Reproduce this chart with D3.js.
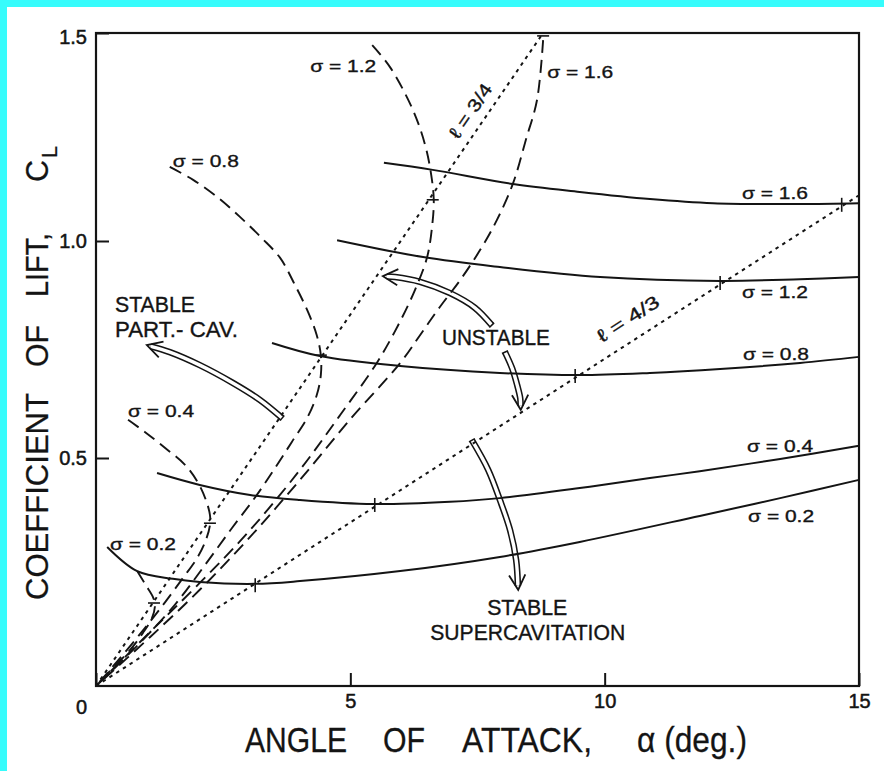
<!DOCTYPE html>
<html>
<head>
<meta charset="utf-8">
<script src="https://cdn.jsdelivr.net/npm/d3@7"></script>
<style>
  html, body { margin: 0; padding: 0; background: #fff; }
  svg { display: block; }
  text { font-family: "Liberation Sans", Arial, Helvetica, sans-serif; fill: #141414; }
</style>
</head>
<body>
<svg id="chart" width="884" height="771"></svg>
<script>
// ---- axis ticks ----
const alphaTicks = [0, 5, 10, 15];
const liftTicks = [0.5, 1.0, 1.5];

// ---- supercavitating solutions (solid), [angle of attack (deg), C_L] ----
const superSigma16 = [[5.66,1.188],[6.62,1.171],[8.20,1.137],[9.51,1.118],[10.89,1.101],[12.13,1.091],[13.84,1.089],[15,1.091]];
const superSigma12 = [[4.74,1.002],[6.43,0.963],[7.94,0.940],[9.91,0.917],[12.27,0.908],[13.84,0.912],[15,0.917]];
const superSigma08 = [[3.46,0.765],[4.40,0.735],[5.98,0.712],[7.94,0.696],[9.51,0.691],[10.89,0.696],[12.27,0.705],[13.84,0.719],[15,0.733]];
const superSigma04 = [[1.20,0.467],[2.04,0.441],[3.03,0.419],[4.01,0.408],[5.45,0.399],[6.96,0.404],[7.94,0.412],[9.51,0.434],[10.89,0.456],[11.87,0.471],[13.45,0.498],[15,0.528]];
const superSigma02 = [[0.22,0.305],[0.81,0.252],[1.51,0.235],[2.04,0.228],[3.13,0.224],[4.01,0.230],[5.98,0.252],[7.94,0.283],[9.51,0.316],[11.87,0.373],[13.45,0.412],[15,0.452]];

// ---- partially cavitating solutions (dashed) ----
const partSigma16 = [[8.79,1.483],[8.67,1.339],[8.45,1.243],[8.20,1.139],[7.88,1.050],[7.55,0.979],[7.16,0.910],[6.76,0.848],[6.37,0.783],[5.98,0.719],[4.99,0.588],[4.01,0.452],[3.03,0.327],[2.04,0.211],[1.06,0.107],[0,0]];
const partSigma12 = [[5.43,1.471],[5.78,1.418],[6.23,1.315],[6.47,1.231],[6.59,1.159],[6.64,1.099],[6.61,1.038],[6.51,0.963],[6.27,0.887],[5.94,0.806],[5.52,0.719],[4.80,0.599],[4.01,0.474],[3.03,0.342],[2.04,0.226],[1.06,0.118],[0,0]];
const partSigma08 = [[1.45,1.178],[1.91,1.147],[2.38,1.106],[2.83,1.058],[3.26,1.007],[3.62,0.961],[3.91,0.899],[4.17,0.836],[4.34,0.783],[4.42,0.737],[4.42,0.691],[4.34,0.645],[4.15,0.592],[3.85,0.537],[3.52,0.478],[3.13,0.414],[2.67,0.346],[2.14,0.265],[1.55,0.178],[0.86,0.094],[0,0]];
const partSigma04 = [[0.63,0.588],[0.96,0.560],[1.36,0.523],[1.75,0.485],[2.01,0.445],[2.16,0.408],[2.24,0.375],[2.24,0.353],[2.16,0.320],[1.99,0.281],[1.71,0.237],[1.36,0.184],[0.96,0.127],[0.51,0.066],[0,0]];
const partSigma02 = [[0.81,0.252],[0.98,0.221],[1.12,0.195],[1.16,0.178],[1.10,0.149],[0.92,0.116],[0.67,0.079],[0.37,0.044],[0,0]];

// ---- lines of constant cavity length (dotted) ----
const lengthThreeQuarters = [[0,0],[8.79,1.5]];
const lengthFourThirds = [[0,0],[15,1.11]];
const threeQuarterMarks = [[8.79,1.493],[6.62,1.099],[4.42,0.737],[2.24,0.357],[1.14,0.182]];
const fourThirdsMarks = [[3.13,0.221],[5.48,0.397],[9.42,0.689],[12.27,0.903],[14.66,1.087]];

// ---- stability arrows ----
const arrowPartCav = [[3.66,0.592],[3.22,0.634],[2.69,0.673],[2.04,0.714],[1.45,0.744],[1.00,0.760]];
const arrowUnstableUp = [[7.78,0.806],[7.45,0.846],[6.96,0.880],[6.37,0.906],[5.88,0.917],[5.64,0.919]];
const arrowUnstableDown = [[8.04,0.744],[8.18,0.707],[8.28,0.668],[8.34,0.638],[8.35,0.611]];
const arrowSuper = [[7.39,0.541],[7.71,0.474],[7.94,0.408],[8.14,0.342],[8.26,0.276],[8.30,0.211]];

// ---- curve labels: text, anchor [alpha, C_L] ----
const sigmaLabels = [
  ["σ = 1.2", [4.21, 1.406]],
  ["σ = 1.6", [8.87, 1.392]],
  ["σ = 0.8", [1.51, 1.178]],
  ["σ = 0.4", [0.63, 0.594]],
  ["σ = 0.2", [0.275, 0.298]],
  ["σ = 1.6", [12.70, 1.101]],
  ["σ = 1.2", [12.70, 0.869]],
  ["σ = 0.8", [12.72, 0.726]],
  ["σ = 0.4", [12.80, 0.514]],
  ["σ = 0.2", [12.82, 0.360]]
];
const noteLabels = [
  ["STABLE", [0.373, 0.836], 80],
  ["PART.- CAV.", [0.373, 0.779], 123],
  ["UNSTABLE", [6.80, 0.760], 108],
  ["STABLE", [7.69, 0.156], 80],
  ["SUPERCAVITATION", [6.57, 0.101], 195]
];

const W = 884, H = 771;
const svg = d3.select("#chart");

svg.append("rect").attr("width", W).attr("height", H).attr("fill", "#fff");
svg.append("rect").attr("width", W).attr("height", 7).attr("fill", "#36fcfc");
svg.append("rect").attr("width", 7).attr("height", H).attr("fill", "#36fcfc");

const x = d3.scaleLinear().domain([0, 15]).range([96, 859]);
const y = d3.scaleLinear().domain([0, 0.5, 1.0, 1.5]).range([686, 458, 241, 33]);

const ink = "#141414";
const smooth = d3.line().x(d => x(d[0])).y(d => y(d[1])).curve(d3.curveCatmullRom.alpha(0.5));
const straight = d3.line().x(d => x(d[0])).y(d => y(d[1]));

const plot = svg.append("g");

// hollow (double-line) arrows, drawn first so curves pass over them
function hollowArrow(pts) {
  const p = pts.map(d => [x(d[0]), y(d[1])]);
  const tip = p[p.length - 1], prev = p[p.length - 2];
  const ang = Math.atan2(tip[1] - prev[1], tip[0] - prev[0]);
  const shaft = p.slice(0, -1).concat([[tip[0] - 4 * Math.cos(ang), tip[1] - 4 * Math.sin(ang)]]);
  const d = d3.line().curve(d3.curveCatmullRom.alpha(0.5))(shaft);
  plot.append("path").attr("d", d).attr("fill", "none").attr("stroke", ink).attr("stroke-width", 6.5);
  plot.append("path").attr("d", d).attr("fill", "none").attr("stroke", "#fff").attr("stroke-width", 3.4);
  // base cap
  const b0 = p[0], b1 = p[1];
  const a0 = Math.atan2(b1[1] - b0[1], b1[0] - b0[0]) + Math.PI / 2;
  plot.append("line")
    .attr("x1", b0[0] - 3.3 * Math.cos(a0)).attr("y1", b0[1] - 3.3 * Math.sin(a0))
    .attr("x2", b0[0] + 3.3 * Math.cos(a0)).attr("y2", b0[1] + 3.3 * Math.sin(a0))
    .attr("stroke", ink).attr("stroke-width", 1.5);
  // open head
  const L = 17, spread = 0.5;
  const h1 = [tip[0] - L * Math.cos(ang - spread), tip[1] - L * Math.sin(ang - spread)];
  const h2 = [tip[0] - L * Math.cos(ang + spread), tip[1] - L * Math.sin(ang + spread)];
  plot.append("path").attr("d", `M${h1}L${tip}L${h2}`)
    .attr("fill", "none").attr("stroke", ink).attr("stroke-width", 1.8)
    .attr("stroke-linejoin", "miter");
}
[arrowPartCav, arrowUnstableUp, arrowUnstableDown, arrowSuper].forEach(hollowArrow);

// constant cavity-length lines
[lengthThreeQuarters, lengthFourThirds].forEach(s => {
  plot.append("path").attr("d", straight(s)).attr("fill", "none")
    .attr("stroke", ink).attr("stroke-width", 2).attr("stroke-dasharray", "3.5,4.5");
});

// partial-cavity curves
[partSigma16, partSigma12, partSigma08, partSigma04, partSigma02].forEach(s => {
  plot.append("path").attr("d", smooth(s)).attr("fill", "none")
    .attr("stroke", ink).attr("stroke-width", 1.9).attr("stroke-dasharray", "13,7");
});

// supercavity curves
[superSigma16, superSigma12, superSigma08, superSigma04, superSigma02].forEach(s => {
  plot.append("path").attr("d", smooth(s)).attr("fill", "none")
    .attr("stroke", ink).attr("stroke-width", 2);
});

// marks where the cavity-length lines cross the curves
threeQuarterMarks.forEach(d => {
  plot.append("line").attr("x1", x(d[0]) - 6).attr("x2", x(d[0]) + 6)
    .attr("y1", y(d[1])).attr("y2", y(d[1])).attr("stroke", ink).attr("stroke-width", 1.6);
});
fourThirdsMarks.forEach(d => {
  plot.append("line").attr("x1", x(d[0])).attr("x2", x(d[0]))
    .attr("y1", y(d[1]) - 7).attr("y2", y(d[1]) + 7).attr("stroke", ink).attr("stroke-width", 1.6);
});

// frame
plot.append("rect").attr("x", x(0)).attr("y", y(1.5))
  .attr("width", x(15) - x(0)).attr("height", y(0) - y(1.5))
  .attr("fill", "none").attr("stroke", ink).attr("stroke-width", 2.2);

// axes
const xAxis = svg.append("g").attr("transform", `translate(0,${y(0)})`)
  .call(d3.axisBottom(x).tickValues(alphaTicks).tickFormat(d3.format("d"))
    .tickSizeInner(-13).tickSizeOuter(0).tickPadding(8));
const yAxis = svg.append("g").attr("transform", `translate(${x(0)},0)`)
  .call(d3.axisLeft(y).tickValues(liftTicks).tickFormat(d3.format(".1f"))
    .tickSizeInner(-13).tickSizeOuter(0).tickPadding(9));
[xAxis, yAxis].forEach(a => {
  a.select(".domain").remove();
  a.selectAll("line").attr("stroke", ink).attr("stroke-width", 2);
  a.selectAll("text").attr("font-size", 20).attr("fill", ink)
    .attr("stroke", ink).attr("stroke-width", 0.5)
    .style("font-family", '"Liberation Sans", Arial, sans-serif');
});
xAxis.selectAll(".tick").filter(d => d === 0).select("text").attr("x", -15).attr("dy", "1.0em");
yAxis.selectAll(".tick").filter(d => d === 1.5).select("text").attr("dy", "0.5em");

// text helper
function put(txt, px, py, o = {}) {
  const t = svg.append("text")
    .attr("transform", `translate(${px},${py}) rotate(${o.rot || 0}) scale(1,${o.sy || 1})`)
    .attr("font-size", o.fs || 17)
    .attr("stroke", ink).attr("stroke-width", o.sw || 0.35)
    .text(txt);
  if (o.len) t.attr("textLength", o.len).attr("lengthAdjust", "spacingAndGlyphs");
  return t;
}

sigmaLabels.forEach(([t, p]) => put(t, x(p[0]), y(p[1]), { fs: 17, len: 66 }));
noteLabels.forEach(([t, p, w]) => put(t, x(p[0]), y(p[1]), { fs: 22, len: w }));

// cavity-length labels along their lines
put("ℓ = 3/4", x(7.12), y(1.243), { fs: 18, len: 62, rot: -55.6 });
put("ℓ = 4/3", x(9.95), y(0.765), { fs: 18, len: 70, rot: -32.8 });

// axis titles
put("ANGLE", 245, 752, { fs: 31, len: 102, sy: 1.13, sw: 0.25 });
put("OF", 383, 752, { fs: 31, len: 42, sy: 1.13, sw: 0.25 });
put("ATTACK,", 462, 752, { fs: 31, len: 130, sy: 1.13, sw: 0.25 });
put("α (deg.)", 637, 752, { fs: 31, len: 110, sy: 1.13, sw: 0.25 });

put("COEFFICIENT", 48, 600, { fs: 31, len: 207, rot: -90, sw: 0.25 });
put("OF", 48, 367, { fs: 31, len: 42, rot: -90, sw: 0.25 });
put("LIFT,", 48, 297, { fs: 31, len: 64, rot: -90, sw: 0.25 });
put("C", 48, 182, { fs: 31, len: 22, rot: -90, sw: 0.25 });
put("L", 57, 158, { fs: 22, len: 12, rot: -90, sw: 0.25 });
</script>
</body>
</html>
